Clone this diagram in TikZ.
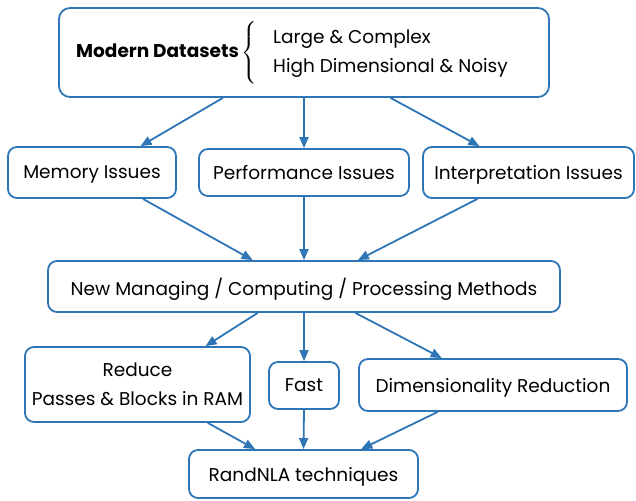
\documentclass[tikz,border=0pt]{standalone}
\usepackage{exscale}
\usepackage{fontspec}
\setmainfont{Poppins}
\usetikzlibrary{arrows.meta,calc}
\definecolor{edgeblue}{RGB}{46,117,182}
\begin{document}
\begin{tikzpicture}[x=1pt,y=-1pt,
  box/.style={draw=edgeblue, line width=1.8pt, rounded corners=9pt,
    inner sep=0pt, align=center, text depth=0pt,
    font=\fontsize{18.5}{29}\selectfont},
  lbl/.style={inner sep=0pt, anchor=base west, font=\fontsize{18.5}{20}\selectfont},
  link/.style={draw=edgeblue, line width=1.8pt,
    -{Triangle[length=11pt,width=9pt]}}]
\useasboundingbox (0,0) rectangle (636,500);

% top: the data sources
\node[box, minimum width=490pt, minimum height=89pt, rounded corners=11pt] (src) at (304,52.5) {};
\node[lbl, font=\fontsize{18.5}{20}\bfseries] (srcname) at (76,58) {Modern Datasets};
\node[inner sep=0pt, font=\fontsize{18.5}{20}\selectfont] (brace) at (250,53) {$\left\{\vrule height 25pt depth 25pt width 0pt\right.$};
\node[lbl] (attr1) at (273,44) {Large \& Complex};
\node[lbl] (attr2) at (273,73) {High Dimensional \& Noisy};

% issues
\node[box, minimum width=168pt, minimum height=51pt] (mem) at (92,172.5) {Memory Issues};
\node[box, minimum width=210pt, minimum height=47pt] (perf) at (304,172.5) {Performance Issues};
\node[box, minimum width=211pt, minimum height=51pt] (interp) at (528.5,172.5) {Interpretation Issues};

% methods
\node[box, minimum width=512pt, minimum height=51pt] (meth) at (304,286.5) {New Managing / Computing / Processing Methods};

% approaches
\node[box, minimum width=225pt, minimum height=75pt] (red) at (137.5,384.5) {Reduce\\Passes \& Blocks in RAM};
\node[box, minimum width=70pt, minimum height=47pt] (fast) at (304,385.5) {Fast};
\node[box, minimum width=268pt, minimum height=52pt] (dim) at (493,385) {Dimensionality Reduction};

% result
\node[box, minimum width=229pt, minimum height=48pt] (rand) at (303.5,474) {RandNLA techniques};

% connectors
\draw[link] ($(src.south west)!0.335!(src.south east)$) -- ($(mem.north west)!0.786!(mem.north east)$);
\draw[link] (src.south) -- (perf.north);
\draw[link] ($(src.south west)!0.676!(src.south east)$) -- ($(interp.north west)!0.269!(interp.north east)$);

\draw[link] ($(mem.south west)!0.80!(mem.south east)$) -- ($(meth.north west)!0.40!(meth.north east)$);
\draw[link] (perf.south) -- (meth.north);
\draw[link] ($(interp.south west)!0.26!(interp.south east)$) -- ($(meth.north west)!0.605!(meth.north east)$);

\draw[link] ($(meth.south west)!0.41!(meth.south east)$) -- ($(red.north west)!0.80!(red.north east)$);
\draw[link] (meth.south) -- (fast.north);
\draw[link] ($(meth.south west)!0.60!(meth.south east)$) -- ($(dim.north west)!0.31!(dim.north east)$);

\draw[link] ($(red.south west)!0.81!(red.south east)$) -- ($(rand.north west)!0.29!(rand.north east)$);
\draw[link] (fast.south) -- (rand.north);
\draw[link] ($(dim.south west)!0.295!(dim.south east)$) -- ($(rand.north west)!0.75!(rand.north east)$);
\end{tikzpicture}
\end{document}
